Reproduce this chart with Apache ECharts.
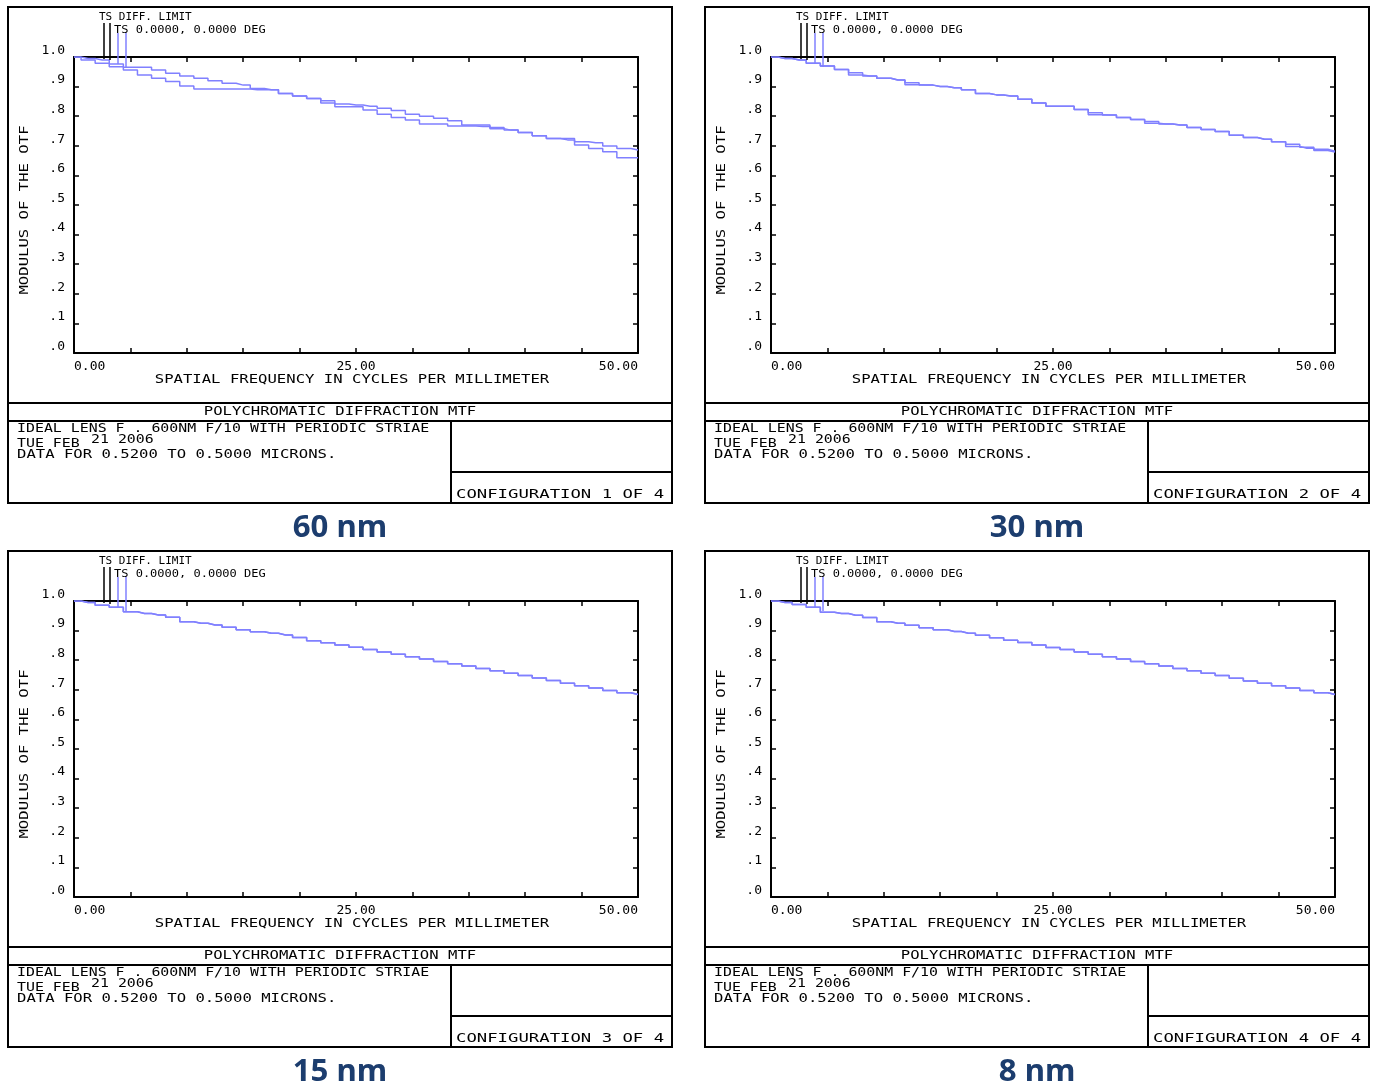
<!DOCTYPE html>
<html><head><meta charset="utf-8">
<script src="https://cdn.jsdelivr.net/npm/echarts@6/dist/echarts.min.js"></script>
<style>html,body{margin:0;padding:0;background:#fff}#c{width:1375px;height:1087px}</style>
</head><body><div id="c"></div>
<script>
// ---- data ----
const freq = [0,1.25,2.5,3.75,5,6.25,7.5,8.75,10,11.25,12.5,13.75,15,16.25,17.5,18.75,20,21.25,22.5,23.75,25,
              26.25,27.5,28.75,30,31.25,32.5,33.75,35,36.25,37.5,38.75,40,41.25,42.5,43.75,45,46.25,47.5,48.75,50];
const mtf60T = [1.0,0.995,0.990,0.976,0.965,0.965,0.956,0.945,0.936,0.928,0.920,0.911,0.905,0.894,0.889,0.877,0.868,0.860,0.852,0.841,0.838,
                0.834,0.827,0.819,0.807,0.800,0.793,0.785,0.770,0.770,0.762,0.753,0.745,0.734,0.725,0.725,0.714,0.710,0.699,0.691,0.686];
const mtf60S = [1.0,0.990,0.979,0.967,0.956,0.939,0.928,0.917,0.902,0.892,0.892,0.892,0.892,0.889,0.889,0.877,0.868,0.860,0.845,0.832,0.832,
                0.821,0.807,0.796,0.787,0.774,0.774,0.767,0.767,0.765,0.758,0.753,0.745,0.734,0.725,0.720,0.703,0.691,0.680,0.660,0.660];
const mtf30T = [1.0,0.995,0.990,0.979,0.970,0.958,0.947,0.936,0.928,0.922,0.913,0.905,0.900,0.896,0.889,0.877,0.872,0.868,0.857,0.845,0.834,
                0.834,0.823,0.812,0.804,0.796,0.789,0.782,0.774,0.770,0.762,0.755,0.748,0.736,0.728,0.722,0.714,0.705,0.695,0.688,0.682];
const mtf30S = [1.0,0.995,0.990,0.979,0.970,0.958,0.939,0.936,0.928,0.922,0.906,0.905,0.900,0.896,0.889,0.877,0.872,0.868,0.857,0.845,0.834,
                0.834,0.823,0.805,0.804,0.796,0.789,0.776,0.774,0.770,0.762,0.755,0.748,0.736,0.728,0.722,0.714,0.698,0.692,0.684,0.679];
const mtf15T = [1.0,0.995,0.986,0.979,0.964,0.958,0.953,0.945,0.930,0.925,0.919,0.911,0.903,0.896,0.891,0.885,0.877,0.866,0.859,0.851,0.844,
                0.836,0.828,0.820,0.812,0.804,0.796,0.788,0.780,0.772,0.764,0.756,0.748,0.740,0.731,0.722,0.714,0.706,0.698,0.690,0.684];
const mtf15S = [1.0,0.995,0.986,0.979,0.964,0.958,0.953,0.945,0.930,0.925,0.919,0.911,0.903,0.896,0.891,0.885,0.877,0.866,0.859,0.851,0.844,
                0.836,0.828,0.820,0.812,0.804,0.796,0.788,0.780,0.772,0.764,0.756,0.748,0.740,0.731,0.722,0.714,0.706,0.698,0.690,0.684];
const mtf8T  = [1.0,0.995,0.988,0.979,0.962,0.958,0.952,0.944,0.930,0.925,0.918,0.910,0.903,0.897,0.891,0.884,0.876,0.867,0.860,0.851,0.843,
                0.836,0.828,0.820,0.812,0.804,0.796,0.788,0.780,0.772,0.764,0.756,0.748,0.739,0.730,0.722,0.714,0.706,0.698,0.690,0.684];
const mtf8S  = [1.0,0.995,0.988,0.979,0.962,0.958,0.952,0.944,0.930,0.925,0.918,0.910,0.903,0.897,0.891,0.884,0.876,0.867,0.860,0.851,0.843,
                0.836,0.828,0.820,0.812,0.804,0.796,0.788,0.780,0.772,0.764,0.756,0.748,0.739,0.730,0.722,0.714,0.706,0.698,0.690,0.684];
const captions = ['60 nm','30 nm','15 nm','8 nm'];
const configText = ['CONFIGURATION 1 OF 4','CONFIGURATION 2 OF 4','CONFIGURATION 3 OF 4','CONFIGURATION 4 OF 4'];
const xTickLabels = {0:'0.00',25:'25.00',50:'50.00'};
const yTickLabels = ['.0','.1','.2','.3','.4','.5','.6','.7','.8','.9','1.0'];
const panelSeries = [[mtf60T,mtf60S],[mtf30T,mtf30S],[mtf15T,mtf15S],[mtf8T,mtf8S]];

// ---- layout ----
const OX = [0,697,0,697], OY = [0,0,544,544];
const MONO = '"DejaVu Sans Mono", monospace';
const BLUE = '#8080ff';

const grids=[], xAxes=[], yAxes=[], series=[], graphic=[];
function T(x,y,s,o){o=o||{};return {type:'text',x:x,y:y,scaleX:o.sx||1.3,rotation:o.rot||0,silent:true,z:10,
  style:{text:s,font:(o.font||((o.size||12)+'px '+MONO)),fill:o.fill||'#000',align:o.align||'left',verticalAlign:'middle',textAlign:o.align||'left',textVerticalAlign:'middle'}};}
function L(x1,y1,x2,y2,c,w){return {type:'line',silent:true,z:10,shape:{x1:x1,y1:y1,x2:x2,y2:y2},style:{stroke:c||'#000',lineWidth:w||2}};}

for(let i=0;i<4;i++){
  const ox=OX[i], oy=OY[i];
  grids.push({left:74+ox,top:57+oy,width:564,height:296});
  const axLine={onZero:false,lineStyle:{color:'#000',width:2}};
  const tick={inside:true,length:5,lineStyle:{color:'#000',width:1.5}};
  xAxes.push({gridIndex:i,type:'value',min:0,max:50,interval:5,position:'bottom',axisLine:axLine,axisTick:tick,splitLine:{show:false},
    axisLabel:{color:'#000',fontFamily:MONO,fontSize:13,margin:7,alignMinLabel:'left',alignMaxLabel:'right',
      formatter:v=>xTickLabels[v]!==undefined?xTickLabels[v]:''}});
  xAxes.push({gridIndex:i,type:'value',min:0,max:50,interval:5,position:'top',axisLine:axLine,axisTick:tick,splitLine:{show:false},axisLabel:{show:false}});
  yAxes.push({gridIndex:i,type:'value',min:0,max:1,interval:0.1,position:'left',axisLine:axLine,axisTick:tick,splitLine:{show:false},
    axisLabel:{color:'#000',fontFamily:MONO,fontSize:13,margin:9,verticalAlign:'bottom',
      formatter:v=>yTickLabels[Math.round(v*10)]}});
  yAxes.push({gridIndex:i,type:'value',min:0,max:1,interval:0.1,position:'right',axisLine:axLine,axisTick:tick,splitLine:{show:false},axisLabel:{show:false}});
  panelSeries[i].forEach(arr=>{
    series.push({type:'line',xAxisIndex:2*i,yAxisIndex:2*i,data:freq.map((f,k)=>[f,arr[k]]),step:'middle',symbol:'none',
      lineStyle:{color:BLUE,width:1.5},silent:true,animation:false,z:3});
  });
  // frame and boxes
  graphic.push({type:'rect',silent:true,z:10,shape:{x:8+ox,y:7+oy,width:664,height:496},style:{fill:null,stroke:'#000',lineWidth:2}});
  graphic.push(L(8+ox,403+oy,672+ox,403+oy));
  graphic.push(L(8+ox,421+oy,672+ox,421+oy));
  graphic.push(L(451+ox,421+oy,451+ox,503+oy));
  graphic.push(L(451+ox,472+oy,672+ox,472+oy));
  // texts
  graphic.push(T(352+ox,380+oy,'SPATIAL FREQUENCY IN CYCLES PER MILLIMETER',{align:'center'}));
  graphic.push(T(340+ox,412+oy,'POLYCHROMATIC DIFFRACTION MTF',{align:'center'}));
  graphic.push(T(17+ox,429+oy,'IDEAL LENS F . 600NM F/10 WITH PERIODIC STRIAE',{sx:1.24}));
  graphic.push(T(17+ox,444+oy,'TUE FEB',{sx:1.24}));
  graphic.push(T(91+ox,440+oy,'21 2006',{sx:1.24}));
  graphic.push(T(17+ox,455+oy,'DATA FOR 0.5200 TO 0.5000 MICRONS.',{sx:1.3}));
  graphic.push(T(456+ox,495+oy,configText[i],{sx:1.44}));
  graphic.push(T(25+ox,210+oy,'MODULUS OF THE OTF',{align:'center',rot:Math.PI/2}));
  graphic.push(T(99+ox,17+oy,'TS DIFF. LIMIT',{size:10,sx:1.1}));
  graphic.push(T(114+ox,30+oy,'TS 0.0000, 0.0000 DEG',{size:10,sx:1.2}));
  graphic.push(L(104+ox,23+oy,104+ox,59+oy,'#000',1.5));
  graphic.push(L(110+ox,23+oy,110+ox,60+oy,'#000',1.5));
  graphic.push(L(118+ox,33+oy,118+ox,64+oy,BLUE,1.5));
  graphic.push(L(126+ox,33+oy,126+ox,67+oy,BLUE,1.5));
  graphic.push(T(340+ox,528+oy,captions[i],{align:'center',sx:1.04,font:'bold 30px "Noto Sans", sans-serif',fill:'#1c3d6e'}));
}

const chart = echarts.init(document.getElementById('c'), null, {renderer:'canvas'});
chart.setOption({backgroundColor:'#fff',animation:false,grid:grids,xAxis:xAxes,yAxis:yAxes,series:series,graphic:graphic});
</script></body></html>
